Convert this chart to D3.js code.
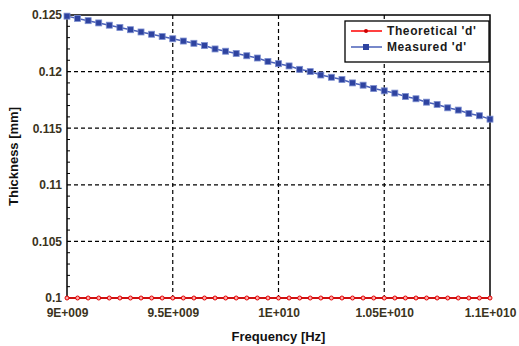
<!DOCTYPE html>
<html><head><meta charset="utf-8">
<script src="https://cdn.jsdelivr.net/npm/d3@7"></script>
<style>body{margin:0;background:#fff}svg{display:block}text{font-family:"Liberation Sans",Arial,sans-serif;font-weight:bold}</style>
</head><body>
<script>
const frequencies = d3.range(41).map(i => 9e9 + i * 5e7);
const theoretical = [0.1,0.1,0.1,0.1,0.1,0.1,0.1,0.1,0.1,0.1,0.1,0.1,0.1,0.1,0.1,0.1,0.1,0.1,0.1,0.1,0.1,0.1,0.1,0.1,0.1,0.1,0.1,0.1,0.1,0.1,0.1,0.1,0.1,0.1,0.1,0.1,0.1,0.1,0.1,0.1,0.1];
const measured = [0.1249,0.1247,0.1245,0.1243,0.1241,0.1239,0.1237,0.1235,0.1233,0.1231,0.1229,
  0.1227,0.1225,0.1223,0.1220,0.1218,0.1216,0.1214,0.1212,0.1209,0.1207,
  0.1205,0.1202,0.1200,0.1197,0.1195,0.1193,0.1190,0.1188,0.1185,0.1183,
  0.1181,0.1178,0.1176,0.1173,0.1171,0.1168,0.1166,0.1163,0.1161,0.1158];
const xTicks = [9e9, 9.5e9, 1e10, 1.05e10, 1.1e10];
const xTickLabels = ["9E+009","9.5E+009","1E+010","1.05E+010","1.1E+010"];
const yTicks = [0.1,0.105,0.11,0.115,0.12,0.125];
const yTickLabels = ["0.1","0.105","0.11","0.115","0.12","0.125"];
const seriesNames = ["Theoretical 'd'","Measured 'd'"];

const W=519,H=346, L=67,R=490,T=15,B=298;
const svg=d3.select("body").append("svg").attr("width",W).attr("height",H);
const x=d3.scaleLinear().domain([9e9,1.1e10]).range([L,R]);
const y=d3.scaleLinear().domain([0.1,0.125]).range([B,T]);
const tc="#3b3320";

// grid
svg.append("g").selectAll("line").data(xTicks.slice(1,-1)).join("line")
  .attr("x1",d=>x(d)).attr("x2",d=>x(d)).attr("y1",T).attr("y2",B)
  .attr("stroke","#000").attr("stroke-width",1.2).attr("stroke-dasharray","4,3");
svg.append("g").selectAll("line").data(yTicks.slice(1,-1)).join("line")
  .attr("y1",d=>y(d)).attr("y2",d=>y(d)).attr("x1",L).attr("x2",R)
  .attr("stroke","#000").attr("stroke-width",1.2).attr("stroke-dasharray","4,3");

// minor ticks on y
const minor=d3.range(0,26).map(i=>0.1+i*0.001).filter((d,i)=>i%5!==0);
svg.append("g").selectAll("line").data(minor).join("line")
  .attr("x1",L).attr("x2",L+3).attr("y1",d=>y(d)).attr("y2",d=>y(d))
  .attr("stroke","#000").attr("stroke-width",1);

// frame
svg.append("rect").attr("x",L).attr("y",T).attr("width",R-L).attr("height",B-T)
  .attr("fill","none").attr("stroke","#000").attr("stroke-width",1.5);

// axes labels
const yAxis=d3.axisLeft(y).tickValues(yTicks).tickFormat((d,i)=>yTickLabels[i]).tickSize(0).tickPadding(5);
const ga=svg.append("g").attr("transform",`translate(${L},0)`).call(yAxis);
ga.select(".domain").remove();
ga.selectAll("text").attr("font-size",12).attr("fill",tc).attr("font-family","Liberation Sans, Arial, sans-serif").attr("font-weight","bold");
const xAxis=d3.axisBottom(x).tickValues(xTicks).tickFormat((d,i)=>xTickLabels[i]).tickSize(0).tickPadding(10);
const gx=svg.append("g").attr("transform",`translate(0,${B})`).call(xAxis);
gx.select(".domain").remove();
gx.selectAll("text").attr("font-size",12).attr("fill",tc).attr("font-family","Liberation Sans, Arial, sans-serif").attr("font-weight","bold");

svg.append("text").attr("x",(L+R)/2).attr("y",341).attr("text-anchor","middle").attr("font-size",13).attr("fill","#111").text("Frequency [Hz]");
svg.append("text").attr("transform",`translate(18,${(T+B)/2}) rotate(-90)`).attr("text-anchor","middle").attr("font-size",13).attr("fill","#111").text("Thickness [mm]");

// series
const line=d3.line().x((d,i)=>x(frequencies[i])).y(d=>y(d));
svg.append("path").datum(measured).attr("d",line).attr("fill","none").attr("stroke","#4a60b8").attr("stroke-width",1.5);
svg.append("g").selectAll("rect").data(measured).join("rect")
  .attr("x",(d,i)=>x(frequencies[i])-3).attr("y",d=>y(d)-3).attr("width",6).attr("height",6)
  .attr("fill","#2e43a0").attr("stroke","#7d8fd0").attr("stroke-width",0.8);
svg.append("path").datum(theoretical).attr("d",line).attr("fill","none").attr("stroke","#ff0000").attr("stroke-width",1.5);
svg.append("g").selectAll("circle").data(theoretical).join("circle")
  .attr("cx",(d,i)=>x(frequencies[i])).attr("cy",d=>y(d)).attr("r",2)
  .attr("fill","#ffaaaa").attr("stroke","#e00000").attr("stroke-width",1);

// legend
const lg=svg.append("g");
lg.append("rect").attr("x",345).attr("y",21).attr("width",144).attr("height",41).attr("fill","#fff").attr("stroke","#000").attr("stroke-width",1.3);
lg.append("line").attr("x1",351).attr("x2",382).attr("y1",31).attr("y2",31).attr("stroke","#ff0000").attr("stroke-width",1.5);
lg.append("circle").attr("cx",366).attr("cy",31).attr("r",2).attr("fill","#cc0000");
lg.append("line").attr("x1",351).attr("x2",382).attr("y1",47).attr("y2",47).attr("stroke","#4a60b8").attr("stroke-width",1.5);
lg.append("rect").attr("x",363).attr("y",44).attr("width",6).attr("height",6).attr("fill","#2e43a0");
lg.selectAll("text.l").data(seriesNames).join("text").attr("class","l")
  .attr("x",387).attr("y",(d,i)=>35+i*16).attr("font-size",12).attr("fill","#1a1a1a").attr("letter-spacing",0.6).text(d=>d);
</script>
</body></html>
